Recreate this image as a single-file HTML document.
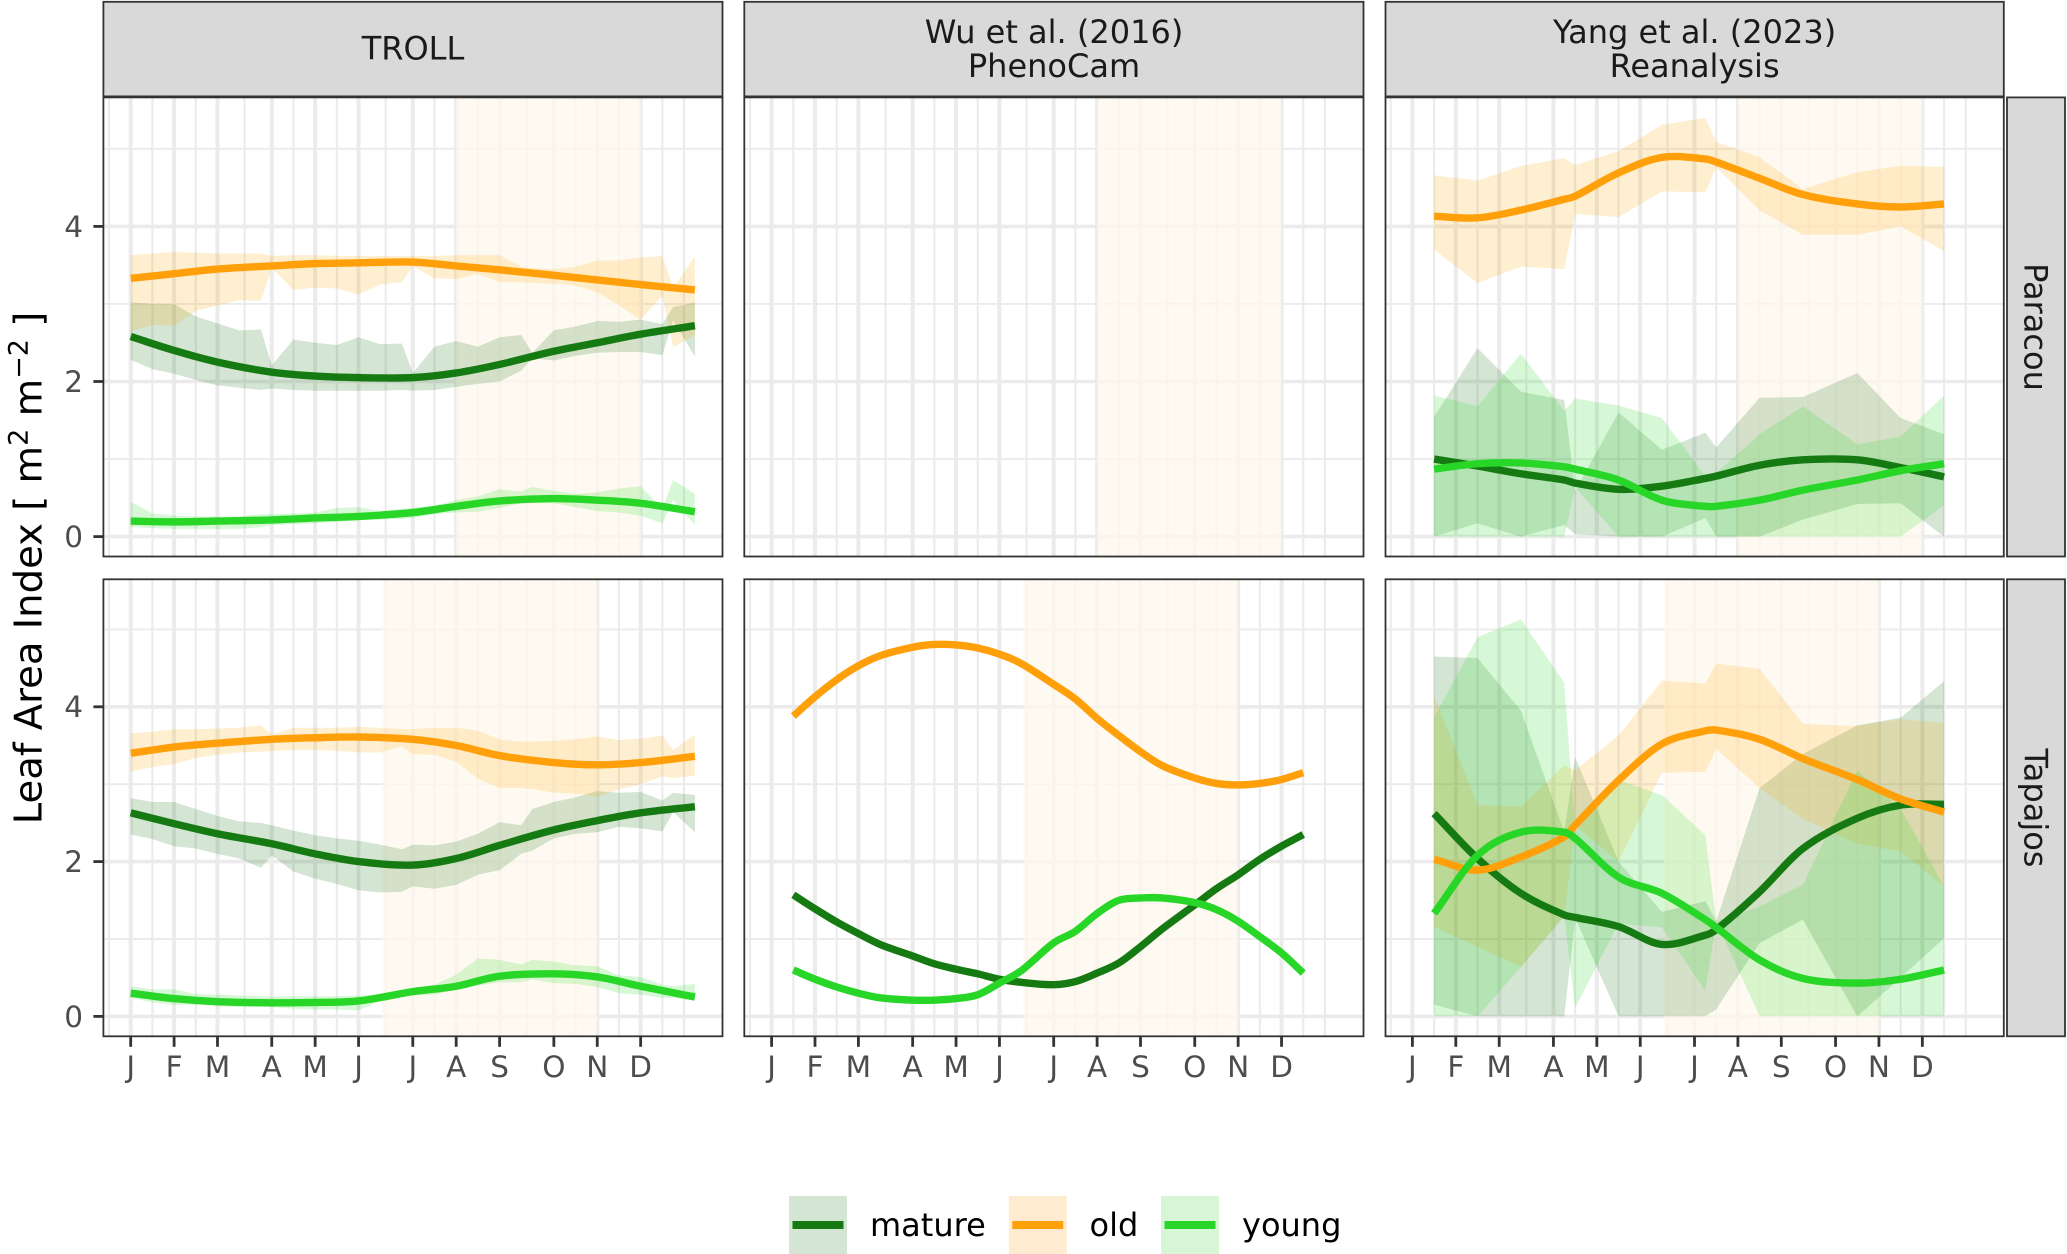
<!DOCTYPE html>
<html lang="en">
<head>
<meta charset="utf-8">
<title>Leaf Area Index seasonal cycles</title>
<style>
html,body{margin:0;padding:0;background:#fff;}
svg{display:block;font-family:"DejaVu Sans","Liberation Sans",sans-serif;}
</style>
</head>
<body>
<svg id="chart" xmlns="http://www.w3.org/2000/svg" width="2067" height="1254" viewBox="0 0 2067 1254">
  <rect x="0" y="0" width="2067" height="1254" fill="#ffffff"/>
  <g id="plots"></g>
  <g>
    <rect x="103.4" y="1.8" width="619.1" height="94.6" fill="#d9d9d9" stroke="#333333" stroke-width="1.8"/>
    <text x="413" y="59.3" font-size="32" fill="#1a1a1a" text-anchor="middle">TROLL</text>
    <rect x="744.3" y="1.8" width="619.2" height="94.6" fill="#d9d9d9" stroke="#333333" stroke-width="1.8"/>
    <text x="1054" y="43" font-size="32" fill="#1a1a1a" text-anchor="middle">Wu et al. (2016)</text>
    <text x="1054" y="77" font-size="32" fill="#1a1a1a" text-anchor="middle">PhenoCam</text>
    <rect x="1385.5" y="1.8" width="618.3" height="94.6" fill="#d9d9d9" stroke="#333333" stroke-width="1.8"/>
    <text x="1694.6" y="43" font-size="32" fill="#1a1a1a" text-anchor="middle">Yang et al. (2023)</text>
    <text x="1694.6" y="77" font-size="32" fill="#1a1a1a" text-anchor="middle">Reanalysis</text>
  </g>
  <g>
    <rect x="2007" y="97.4" width="58" height="459.1" fill="#d9d9d9" stroke="#333333" stroke-width="1.8"/>
    <text transform="translate(2024.5 327) rotate(90)" font-size="32" fill="#1a1a1a" text-anchor="middle">Paracou</text>
    <rect x="2007" y="579.3" width="58" height="457" fill="#d9d9d9" stroke="#333333" stroke-width="1.8"/>
    <text transform="translate(2024.5 808) rotate(90)" font-size="32" fill="#1a1a1a" text-anchor="middle">Tapajos</text>
  </g>
  <text transform="translate(41.5 568) rotate(-90)" font-size="38.6" fill="#000000" text-anchor="middle">Leaf Area Index [ m<tspan font-size="27" dy="-14">2</tspan><tspan dy="14"> m</tspan><tspan font-size="27" dy="-14">−2</tspan><tspan dy="14"> ]</tspan></text>
  <g>
    <g>
      <rect x="789" y="1196" width="58" height="58" fill="#d4e5d4"/>
      <rect x="792.5" y="1221" width="51" height="8" fill="#167a12"/>
      <text x="870" y="1236" font-size="32" fill="#000000">mature</text>
    </g>
    <g>
      <rect x="1008.8" y="1196" width="58" height="58" fill="#ffecd0"/>
      <rect x="1012.3" y="1221" width="51" height="8" fill="#ffa00a"/>
      <text x="1089.5" y="1236" font-size="32" fill="#000000">old</text>
    </g>
    <g>
      <rect x="1161" y="1196" width="58" height="58" fill="#d6f6d6"/>
      <rect x="1164.5" y="1221" width="51" height="8" fill="#28d628"/>
      <text x="1242" y="1236" font-size="32" fill="#000000">young</text>
    </g>
  </g>
</svg>
<script>
// ---- axis data ----
const monthLabels = ['J','F','M','A','M','J','J','A','S','O','N','D'];
const monthWeeks = [0,4,8,13,17,21,26,30,34,39,43,47];
const minorWeeks = [-2,2,6,10.5,15,19,23.5,28,32,36.5,41,45,49,51];
const yMajorTicks = [0,2,4];
const yMinorTicks = [1,3,5];
const dryParacou = [30,47];
const dryTapajos = [23.2,43];

// ---- x positions of the data (week of year) ----
const trollBandWeeks = [0,2,4,6,8,10,12,13,15,17,19,21,23,25,26,28,30,32,34,36,37,39,41,43,45,47,49,50,52];
const trollLineWeeks = [0,4,8,13,17,21,26,30,34,39,43,47,52];
const wuLineWeeks = [2,4,6,8,10,13,15,17,19,21,23,26,28,30,32,34,36,39,41,43,45,47,49];
const yangWeeks = [2,6,10,14,15,19,23,27,28,32,36,41,45,49];

// ---- TROLL, Paracou ----
const trollParacouOldLine = [3.33,3.39,3.45,3.49,3.52,3.53,3.54,3.49,3.44,3.37,3.31,3.25,3.18];
const trollParacouMatureLine = [2.58,2.40,2.25,2.12,2.07,2.05,2.05,2.11,2.22,2.39,2.5,2.61,2.72];
const trollParacouYoungLine = [0.2,0.19,0.2,0.215,0.24,0.26,0.31,0.39,0.46,0.49,0.47,0.43,0.32];
const trollParacouOldHigh = [3.63,3.65,3.67,3.66,3.65,3.65,3.65,3.62,3.63,3.63,3.62,3.62,3.62,3.62,3.62,3.62,3.63,3.63,3.63,3.48,3.46,3.45,3.48,3.56,3.56,3.6,3.62,3.21,3.61];
const trollParacouOldLow = [2.65,2.73,2.72,2.91,2.98,3.05,3.04,3.46,3.18,3.21,3.2,3.12,3.25,3.28,3.49,3.33,3.32,3.39,3.28,3.28,3.27,3.26,3.24,3.15,2.98,2.8,3.1,2.44,2.6];
const trollParacouMatureHigh = [3.02,3.0,3.0,2.84,2.75,2.66,2.67,2.21,2.54,2.5,2.47,2.57,2.48,2.49,2.11,2.45,2.52,2.45,2.57,2.6,2.37,2.66,2.71,2.78,2.77,2.8,2.74,2.96,3.02];
const trollParacouMatureLow = [2.28,2.16,2.1,2.02,1.95,1.92,1.89,1.91,1.89,1.88,1.88,1.88,1.88,1.89,1.88,1.89,1.93,1.97,2.0,2.14,2.3,2.27,2.33,2.37,2.38,2.38,2.34,2.79,2.32];
const trollParacouYoungHigh = [0.45,0.3,0.27,0.26,0.26,0.26,0.29,0.29,0.3,0.31,0.37,0.38,0.33,0.36,0.37,0.4,0.47,0.52,0.61,0.58,0.64,0.59,0.55,0.57,0.62,0.65,0.36,0.73,0.55];
const trollParacouYoungLow = [0.12,0.11,0.1,0.1,0.1,0.1,0.12,0.15,0.16,0.17,0.19,0.21,0.22,0.23,0.24,0.29,0.31,0.32,0.37,0.43,0.43,0.43,0.38,0.33,0.31,0.27,0.17,0.47,0.15];

// ---- TROLL, Tapajos ----
const trollTapajosOldLine = [3.4,3.48,3.53,3.58,3.6,3.61,3.58,3.5,3.37,3.28,3.25,3.28,3.36];
const trollTapajosMatureLine = [2.63,2.49,2.36,2.23,2.1,2.0,1.955,2.04,2.21,2.41,2.53,2.63,2.71];
const trollTapajosYoungLine = [0.3,0.23,0.19,0.176,0.18,0.2,0.32,0.39,0.52,0.55,0.51,0.39,0.25];
const trollTapajosOldHigh = [3.66,3.68,3.71,3.71,3.72,3.73,3.76,3.64,3.73,3.73,3.73,3.74,3.73,3.71,3.71,3.73,3.73,3.69,3.58,3.55,3.55,3.56,3.58,3.62,3.57,3.59,3.63,3.44,3.64];
const trollTapajosOldLow = [3.16,3.22,3.26,3.34,3.38,3.41,3.42,3.43,3.44,3.44,3.43,3.41,3.41,3.49,3.39,3.38,3.29,3.07,2.95,2.95,2.94,2.89,2.88,2.84,2.93,3.0,3.1,3.08,3.11];
const trollTapajosMatureHigh = [2.82,2.77,2.77,2.68,2.59,2.52,2.5,2.47,2.4,2.34,2.3,2.27,2.22,2.16,2.22,2.21,2.26,2.36,2.51,2.47,2.68,2.77,2.83,2.91,2.89,2.9,2.79,2.89,2.86];
const trollTapajosMatureLow = [2.35,2.29,2.2,2.17,2.1,2.04,1.92,2.08,1.87,1.78,1.71,1.63,1.6,1.61,1.68,1.65,1.7,1.83,1.89,2.1,2.14,2.3,2.36,2.38,2.45,2.43,2.39,2.64,2.38];
const trollTapajosYoungHigh = [0.39,0.35,0.35,0.29,0.28,0.27,0.26,0.25,0.26,0.26,0.26,0.27,0.28,0.33,0.35,0.41,0.54,0.75,0.73,0.67,0.73,0.71,0.66,0.65,0.53,0.51,0.41,0.39,0.42];
const trollTapajosYoungLow = [0.24,0.18,0.15,0.15,0.13,0.12,0.12,0.12,0.1,0.09,0.09,0.08,0.2,0.25,0.27,0.28,0.35,0.4,0.44,0.44,0.48,0.43,0.42,0.38,0.3,0.28,0.24,0.24,0.2];

// ---- Wu et al. (2016), Tapajos ----
const wuOldLine = [3.88,4.13,4.35,4.53,4.66,4.77,4.805,4.80,4.76,4.68,4.56,4.29,4.1,3.85,3.63,3.42,3.24,3.08,3.01,2.99,3.01,3.06,3.15];
const wuMatureLine = [1.57,1.39,1.22,1.07,0.93,0.78,0.68,0.61,0.55,0.48,0.44,0.41,0.45,0.56,0.69,0.9,1.13,1.44,1.65,1.83,2.03,2.2,2.35];
const wuYoungLine = [0.6,0.48,0.38,0.3,0.24,0.21,0.21,0.23,0.28,0.43,0.59,0.95,1.1,1.33,1.5,1.53,1.53,1.47,1.38,1.23,1.03,0.82,0.56];

// ---- Yang et al. (2023), Paracou ----
const yangParacouOldLine = [4.13,4.11,4.21,4.35,4.39,4.69,4.89,4.87,4.83,4.62,4.41,4.29,4.25,4.29];
const yangParacouMatureLine = [1.0,0.91,0.81,0.73,0.69,0.61,0.65,0.75,0.78,0.92,0.99,0.99,0.89,0.77];
const yangParacouYoungLine = [0.87,0.94,0.95,0.9,0.87,0.73,0.47,0.39,0.39,0.47,0.6,0.73,0.85,0.94];
const yangParacouOldHigh = [4.66,4.59,4.78,4.88,4.79,4.97,5.31,5.4,5.09,4.89,4.48,4.7,4.78,4.77];
const yangParacouOldLow = [3.7,3.27,3.48,3.45,4.16,4.12,4.45,4.44,4.76,4.21,3.89,3.89,4.0,3.68];
const yangParacouMatureHigh = [1.54,2.43,1.87,1.76,0.59,1.6,1.12,1.34,1.15,1.79,1.8,2.11,1.53,1.32];
const yangParacouMatureLow = [0,0.17,0,0.15,0.03,0,0,0.24,0,0,0.22,0.42,0.43,0];
const yangParacouYoungHigh = [1.82,1.68,2.36,1.62,1.78,1.69,1.53,0.78,0.82,1.32,1.68,1.19,1.29,1.82];
const yangParacouYoungLow = [0,0,0,0,0.64,0,0,0,0,0,0,0,0,0.4];

// ---- Yang et al. (2023), Tapajos ----
const yangTapajosOldLine = [2.03,1.89,2.06,2.32,2.47,3.05,3.52,3.69,3.7,3.58,3.33,3.06,2.81,2.64];
const yangTapajosMatureLine = [2.62,2.04,1.59,1.31,1.28,1.16,0.93,1.05,1.12,1.61,2.17,2.56,2.73,2.74];
const yangTapajosYoungLine = [1.33,2.08,2.38,2.38,2.3,1.8,1.59,1.25,1.15,0.73,0.49,0.43,0.48,0.6];
const yangTapajosOldHigh = [4.14,2.73,2.71,3.24,3.18,3.63,4.34,4.3,4.56,4.49,3.78,3.75,3.84,3.79];
const yangTapajosOldLow = [1.16,0.9,0.64,1.29,2.47,2.0,3.15,3.16,3.46,2.95,2.55,2.23,2.13,1.68];
const yangTapajosMatureHigh = [4.65,4.63,3.95,2.38,3.35,2.0,1.35,1.49,1.23,2.95,3.39,3.76,3.86,4.33];
const yangTapajosMatureLow = [0.15,0,0,0,1.27,0,0,0,0.09,0.95,1.25,0,0.5,1.01];
const yangTapajosYoungHigh = [3.86,4.9,5.13,4.31,2.38,3.05,2.86,2.34,1.23,1.42,1.7,3.18,2.68,1.68];
const yangTapajosYoungLow = [0,0,0.64,1.29,0.11,1.2,1.15,0.33,1.23,0,0,0,0,0];

// ---- layout and drawing ----
const SVGNS = 'http://www.w3.org/2000/svg';
const colLeft = [103.4, 744.3, 1385.5];
const colRight = [722.5, 1363.5, 2003.8];
const colWeekZero = [130.7, 771.6, 1412.4];
const WEEK_PX = 10.85;
const rowLayout = [
  {top: 97.4, bottom: 556.5, zero: 536.6, unit: 77.55, dry: dryParacou},
  {top: 579.3, bottom: 1036.3, zero: 1016.4, unit: 77.4, dry: dryTapajos}
];
const seriesColor = {mature: '#167a12', old: '#ffa00a', young: '#28d628'};
const ribbonColor = {mature: '#006400', old: '#ffa500', young: '#28d828'};
const ribbonOpacity = {mature: 0.17, old: 0.18, young: 0.19};

const panels = [
  {name: 'troll-paracou', col: 0, row: 0, bandX: trollBandWeeks, lineX: trollLineWeeks,
   lines: {mature: trollParacouMatureLine, old: trollParacouOldLine, young: trollParacouYoungLine},
   bands: {mature: [trollParacouMatureLow, trollParacouMatureHigh], old: [trollParacouOldLow, trollParacouOldHigh], young: [trollParacouYoungLow, trollParacouYoungHigh]}},
  {name: 'wu-paracou', col: 1, row: 0, bandX: [], lineX: [], lines: {}, bands: {}},
  {name: 'yang-paracou', col: 2, row: 0, bandX: yangWeeks, lineX: yangWeeks,
   lines: {mature: yangParacouMatureLine, old: yangParacouOldLine, young: yangParacouYoungLine},
   bands: {mature: [yangParacouMatureLow, yangParacouMatureHigh], old: [yangParacouOldLow, yangParacouOldHigh], young: [yangParacouYoungLow, yangParacouYoungHigh]}},
  {name: 'troll-tapajos', col: 0, row: 1, bandX: trollBandWeeks, lineX: trollLineWeeks,
   lines: {mature: trollTapajosMatureLine, old: trollTapajosOldLine, young: trollTapajosYoungLine},
   bands: {mature: [trollTapajosMatureLow, trollTapajosMatureHigh], old: [trollTapajosOldLow, trollTapajosOldHigh], young: [trollTapajosYoungLow, trollTapajosYoungHigh]}},
  {name: 'wu-tapajos', col: 1, row: 1, bandX: [], lineX: wuLineWeeks,
   lines: {mature: wuMatureLine, old: wuOldLine, young: wuYoungLine}, bands: {}},
  {name: 'yang-tapajos', col: 2, row: 1, bandX: yangWeeks, lineX: yangWeeks,
   lines: {mature: yangTapajosMatureLine, old: yangTapajosOldLine, young: yangTapajosYoungLine},
   bands: {mature: [yangTapajosMatureLow, yangTapajosMatureHigh], old: [yangTapajosOldLow, yangTapajosOldHigh], young: [yangTapajosYoungLow, yangTapajosYoungHigh]}}
];

function mk(parent, tag, attrs) {
  const el = document.createElementNS(SVGNS, tag);
  for (const k in attrs) el.setAttribute(k, attrs[k]);
  parent.appendChild(el);
  return el;
}

// Smooth path through points, tangent from neighbouring points (handles uneven spacing).
function smoothPath(px, py) {
  const n = px.length;
  const m = [];
  for (let i = 0; i < n; i++) {
    const a = Math.max(0, i - 1), b = Math.min(n - 1, i + 1);
    m.push((py[b] - py[a]) / (px[b] - px[a]));
  }
  let d = 'M' + px[0].toFixed(2) + ' ' + py[0].toFixed(2);
  for (let i = 0; i < n - 1; i++) {
    const h = (px[i + 1] - px[i]) / 3;
    d += 'C' + (px[i] + h).toFixed(2) + ' ' + (py[i] + m[i] * h).toFixed(2) + ' ' +
         (px[i + 1] - h).toFixed(2) + ' ' + (py[i + 1] - m[i + 1] * h).toFixed(2) + ' ' +
         px[i + 1].toFixed(2) + ' ' + py[i + 1].toFixed(2);
  }
  return d;
}

const plots = document.getElementById('plots');

panels.forEach(function (p) {
  const row = rowLayout[p.row];
  const left = colLeft[p.col], right = colRight[p.col];
  const xScale = function (w) { return colWeekZero[p.col] + WEEK_PX * w; };
  const yScale = function (v) { return row.zero - row.unit * v; };

  const g = mk(plots, 'g', {});
  
  

  const bg = mk(g, 'rect', {x: left, y: row.top, width: right - left, height: row.bottom - row.top, fill: '#ffffff'});
  
  

  yMinorTicks.forEach(function (v) {
    const l = mk(g, 'line', {x1: left, x2: right, y1: yScale(v), y2: yScale(v), stroke: '#ebebeb', 'stroke-width': 1.9});
    
    
  });
  minorWeeks.forEach(function (w) {
    const l = mk(g, 'line', {x1: xScale(w), x2: xScale(w), y1: row.top, y2: row.bottom, stroke: '#ebebeb', 'stroke-width': 2.1});
    
    
  });
  yMajorTicks.forEach(function (v) {
    const l = mk(g, 'line', {x1: left, x2: right, y1: yScale(v), y2: yScale(v), stroke: '#ebebeb', 'stroke-width': 3.6});
    
    
  });
  monthWeeks.forEach(function (w) {
    const l = mk(g, 'line', {x1: xScale(w), x2: xScale(w), y1: row.top, y2: row.bottom, stroke: '#ebebeb', 'stroke-width': 4});
    
    
  });

  const shade = mk(g, 'rect', {x: xScale(row.dry[0]), y: row.top, width: xScale(row.dry[1]) - xScale(row.dry[0]), height: row.bottom - row.top, fill: '#fff8ec', 'fill-opacity': 0.74});
  
  

  Object.keys(p.bands).forEach(function (s) {
    const low = p.bands[s][0], high = p.bands[s][1];
    let pts = '';
    p.bandX.forEach(function (w, i) { pts += xScale(w).toFixed(2) + ',' + yScale(high[i]).toFixed(2) + ' '; });
    for (let i = p.bandX.length - 1; i >= 0; i--) pts += xScale(p.bandX[i]).toFixed(2) + ',' + yScale(low[i]).toFixed(2) + ' ';
    const poly = mk(g, 'polygon', {points: pts, fill: ribbonColor[s], 'fill-opacity': ribbonOpacity[s]});
    
    
  });

  ['mature', 'old', 'young'].forEach(function (s) {
    if (!p.lines[s]) return;
    const d = smoothPath(p.lineX.map(xScale), p.lines[s].map(yScale));
    const path = mk(g, 'path', {d: d, fill: 'none', stroke: seriesColor[s], 'stroke-width': 7.4});
    
    
  });

  const border = mk(g, 'rect', {x: left, y: row.top, width: right - left, height: row.bottom - row.top, fill: 'none', stroke: '#333333', 'stroke-width': 1.8});
  
  

  if (p.col === 0) {
    yMajorTicks.forEach(function (v) {
      const t = mk(g, 'line', {x1: left - 10, x2: left, y1: yScale(v), y2: yScale(v), stroke: '#333333', 'stroke-width': 2.8});
      
      
      const lab = mk(g, 'text', {x: 83, y: yScale(v) + 10.4, 'font-size': 29.5, fill: '#4d4d4d', 'text-anchor': 'end'});
      
      
      lab.textContent = String(v);
    });
  }
  if (p.row === 1) {
    monthWeeks.forEach(function (w, i) {
      const t = mk(g, 'line', {x1: xScale(w), x2: xScale(w), y1: row.bottom, y2: row.bottom + 10.5, stroke: '#333333', 'stroke-width': 2.8});
      
      
      const lab = mk(g, 'text', {x: xScale(w), y: 1077, 'font-size': 29.5, fill: '#4d4d4d', 'text-anchor': 'middle'});
      
      
      lab.textContent = monthLabels[i];
    });
  }
});
</script>
</body>
</html>
